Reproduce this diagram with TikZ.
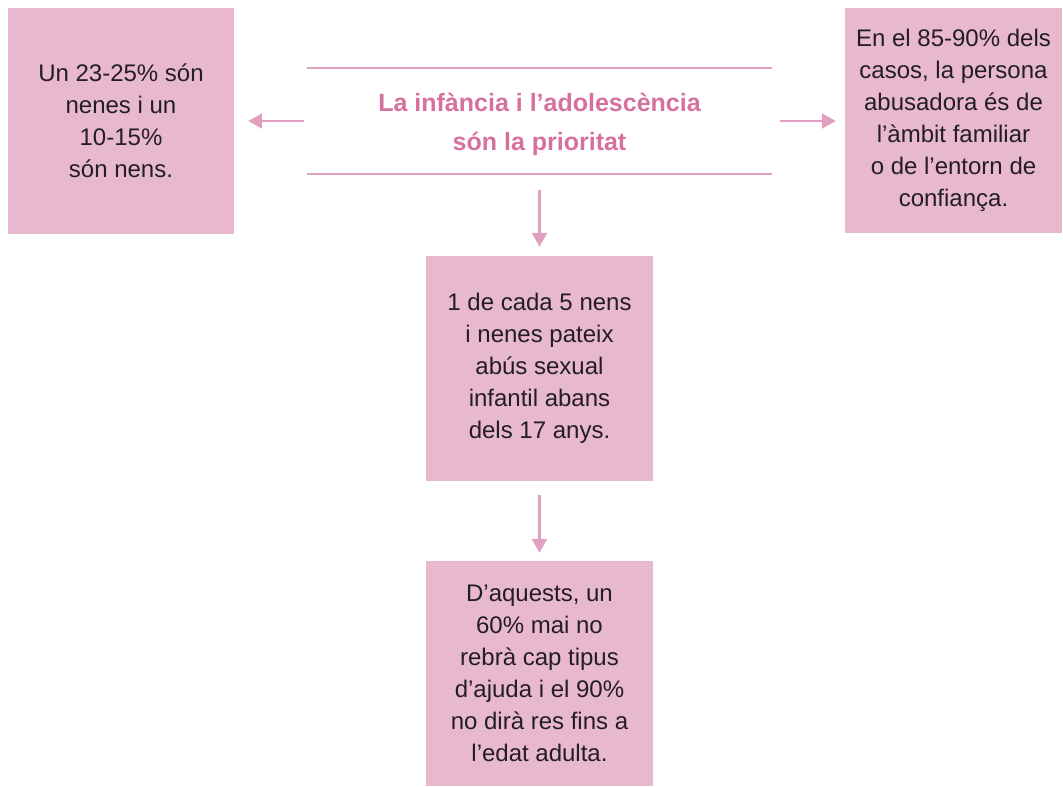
\documentclass[tikz,border=0pt]{standalone}
\usepackage{fontspec}
\setmainfont{Liberation Sans}
\usetikzlibrary{arrows.meta}
\definecolor{boxpink}{HTML}{E8B8CE}
\definecolor{arrowpink}{HTML}{E0A0BF}
\definecolor{titlepink}{HTML}{D6709C}
\definecolor{txt}{HTML}{231F20}
\tikzset{
  infobox/.style={fill=boxpink, draw=none, inner sep=0pt, text=txt, align=center,
    font=\fontsize{24}{32}\selectfont},
  arr/.style={draw=arrowpink, line width=2.4pt, -{Triangle[length=14pt,width=15pt]}},
  rule/.style={draw=arrowpink, line width=2.4pt},
}
\begin{document}
\begin{tikzpicture}[x=1pt,y=-1pt]
\useasboundingbox (0,0) rectangle (1063,787);
\node[infobox, minimum width=226pt, minimum height=226pt] (left) at (121,121)
  {Un 23-25\% són\\nenes i un\\10-15\%\\són nens.};
\node[infobox, minimum width=217pt, minimum height=225pt] (right) at (953.5,120.5)
  {En el 85-90\% dels\\casos, la persona\\abusadora és de\\l’àmbit familiar\\o de l’entorn de\\confiança.};
\node[inner sep=0pt, minimum width=465pt, minimum height=106pt, text=titlepink] (title) at (539.5,121) {};
\node[align=center, text=titlepink, inner sep=0pt,
  font=\fontsize{25}{39}\selectfont\bfseries] (titletext) at (539.5,124)
  {La infància i l’adolescència\\són la prioritat};
\draw[rule] (title.north west) -- (title.north east);
\draw[rule] (title.south west) -- (title.south east);
\node[infobox, minimum width=227pt, minimum height=225pt] (mid) at (539.5,368.5)
  {1 de cada 5 nens\\i nenes pateix\\abús sexual\\infantil abans\\dels 17 anys.};
\node[infobox, minimum width=227pt, minimum height=225pt] (bot) at (539.5,673.5)
  {D’aquests, un\\60\% mai no\\rebrà cap tipus\\d’ajuda i el 90\%\\no dirà res fins a\\l’edat adulta.};
\draw[arr, shorten <=3pt, shorten >=14pt] (title.west) -- (left.east |- title.west);
\draw[arr, shorten <=8pt, shorten >=9pt] (title.east) -- (right.west |- title.east);
\draw[arr, shorten <=16pt, shorten >=9pt] (title.south) -- (mid.north);
\draw[arr, shorten <=14pt, shorten >=8pt] (mid.south) -- (bot.north);
\end{tikzpicture}
\end{document}
